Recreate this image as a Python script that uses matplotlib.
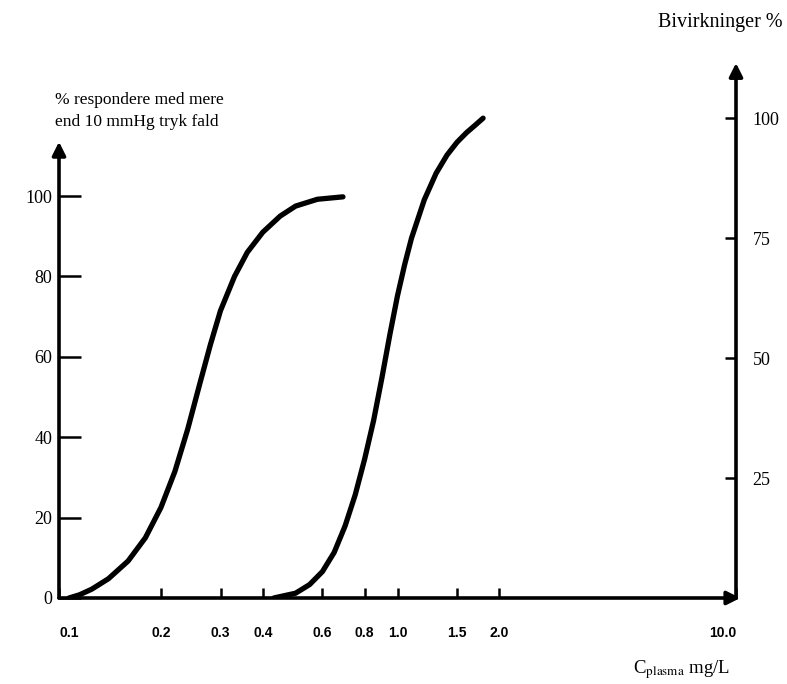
import matplotlib
matplotlib.use("Agg")
import matplotlib.pyplot as plt

plt.rcParams['font.family'] = ['Liberation Serif', 'DejaVu Serif']
plt.rcParams['mathtext.fontset'] = 'stix'

# Response curve (left axis, % responders)
conc_resp = [0.107, 0.115, 0.125, 0.14, 0.16, 0.18, 0.20, 0.22, 0.24, 0.26,
             0.28, 0.30, 0.33, 0.36, 0.40, 0.45, 0.50, 0.58, 0.69]
pct_resp = [0, 0.8, 2.2, 4.8, 9.2, 15, 22.5, 31.5, 42, 53,
            63, 71.5, 80, 86, 91, 95, 97.5, 99.2, 99.8]

# Side-effect curve (right axis, Bivirkninger %)
conc_side = [0.431, 0.50, 0.55, 0.60, 0.65, 0.70, 0.75, 0.80, 0.85, 0.90,
             0.95, 1.00, 1.05, 1.10, 1.20, 1.30, 1.40, 1.50, 1.60, 1.70, 1.79]
pct_side = [0, 1.0, 2.8, 5.5, 9.5, 15, 21.5, 29, 37, 46,
            55, 63, 69.5, 75, 83, 88.5, 92.3, 95, 97, 98.6, 100]

x_ticks = [0.1, 0.2, 0.3, 0.4, 0.6, 0.8, 1.0, 1.5, 2.0, 10.0]
x_labels = ['0.1', '0.2', '0.3', '0.4', '0.6', '0.8', '1.0', '1.5', '2.0', '10.0']
left_ticks = [0, 20, 40, 60, 80, 100]
right_ticks = [25, 50, 75, 100]

fig = plt.figure(figsize=(7.87, 6.84), dpi=100)
ax = fig.add_axes([59/787, 86/684, 677/787, 535/684])
ax.set_xscale('log')
ax.set_xlim(0.1, 10)
ax.set_ylim(0, 133.1)
for s in ax.spines.values():
    s.set_visible(False)
ax.patch.set_visible(False)

ax2 = ax.twinx()
ax2.set_ylim(0, 111.5)
for s in ax2.spines.values():
    s.set_visible(False)

lw_axis = 2.6
arrow_kw = dict(arrowstyle='-|>', lw=lw_axis, color='k', mutation_scale=20,
                shrinkA=0, shrinkB=0)
ax.annotate('', xy=(0.1, 113.5), xytext=(0.1, 0), annotation_clip=False, arrowprops=arrow_kw)
ax.annotate('', xy=(10.3, 0), xytext=(0.1, 0), annotation_clip=False, arrowprops=arrow_kw)
ax2.annotate('', xy=(10, 111.5), xytext=(10, 0), annotation_clip=False, arrowprops=arrow_kw)

# curves
ax.plot(conc_resp, pct_resp, color='k', lw=3.8, solid_capstyle='round',
        solid_joinstyle='round')
ax2.plot(conc_side, pct_side, color='k', lw=3.8, solid_capstyle='round',
         solid_joinstyle='round')

# ticks
ax.set_xticks(x_ticks)
ax.set_xticklabels(x_labels)
ax.xaxis.set_minor_locator(matplotlib.ticker.NullLocator())
ax.tick_params(axis='x', direction='in', length=7, width=1.8, pad=20)
for lab in ax.get_xticklabels():
    lab.set_fontfamily(['Liberation Sans', 'DejaVu Sans'])
    lab.set_fontweight('bold')
    lab.set_fontsize(10)
xl = ax.get_xticklabels()
xl[0].set_horizontalalignment('left')
xl[-1].set_horizontalalignment('right')
ax.set_yticks(left_ticks)
ax.tick_params(axis='y', direction='in', length=16, width=1.8, pad=5, labelsize=13)

ax2.set_yticks(right_ticks)
ax2.tick_params(axis='y', direction='in', length=8, width=1.8, pad=12, labelsize=13)

# texts
fig.text(55/787, 1 - 111/684, '% respondere med mere\nend 10 mmHg tryk fald',
         fontsize=12.5, ha='left', va='center', linespacing=1.45)
fig.text(783/787, 1 - 22/684, 'Bivirkninger %', fontsize=14.5, ha='right', va='center')
fig.text(633/787, 1 - 670/684, r'C$_{\mathrm{plasma}}$ mg/L', fontsize=13.5,
         ha='left', va='center')

fig.savefig('out.png', dpi=100)
